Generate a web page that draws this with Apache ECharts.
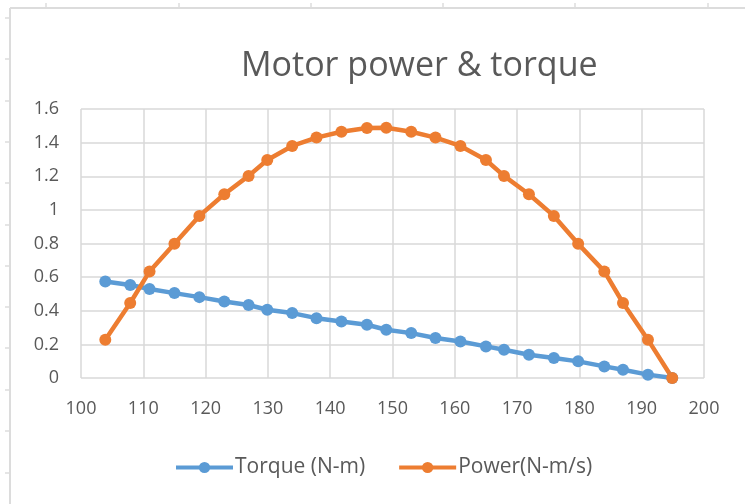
<!DOCTYPE html>
<html>
<head>
<meta charset="utf-8">
<script src="https://cdn.jsdelivr.net/npm/echarts@6/dist/echarts.min.js"></script>
<style>html,body{margin:0;padding:0;background:#fff}#c{width:745px;height:504px}</style>
</head>
<body>
<div id="c"></div>
<script>
const speeds = [103.9, 107.9, 111.0, 115.0, 119.0, 123.0, 126.9, 129.9, 133.9, 137.8, 141.8, 145.9, 149.0, 153.0, 156.9, 160.9, 165.0, 167.9, 171.9, 175.9, 179.8, 184.0, 187.0, 191.0, 194.9];
const torque = [0.574, 0.553, 0.529, 0.505, 0.481, 0.455, 0.434, 0.406, 0.386, 0.356, 0.336, 0.317, 0.287, 0.267, 0.238, 0.217, 0.188, 0.168, 0.138, 0.119, 0.099, 0.069, 0.049, 0.020, 0.0];
const power = [0.228, 0.446, 0.634, 0.798, 0.964, 1.093, 1.202, 1.297, 1.380, 1.430, 1.465, 1.487, 1.489, 1.465, 1.430, 1.380, 1.297, 1.202, 1.093, 0.964, 0.798, 0.634, 0.446, 0.228, 0.0];
const seriesNames = ['Torque (N-m)', 'Power(N-m/s)'];
const titleText = 'Motor power & torque';
const xTicks = [100, 200, 10];
const yTicks = [0, 1.6, 0.2];

const FONT = 'Open Sans';
const TXT = '#595959';
const GRID = '#d9d9d9';

const chart = echarts.init(document.getElementById('c'), null, {renderer: 'canvas'});

const sheet = [];
sheet.push({type: 'line', shape: {x1: 10, y1: 8, x2: 745, y2: 8}, style: {stroke: '#dcdcdc', lineWidth: 2}});
sheet.push({type: 'line', shape: {x1: 10, y1: 8, x2: 10, y2: 504}, style: {stroke: '#dcdcdc', lineWidth: 2}});
[46, 179, 311, 443, 575, 708].forEach(x => sheet.push({type: 'line', shape: {x1: x, y1: 3, x2: x, y2: 8}, style: {stroke: '#dcdcdc', lineWidth: 1.5}}));
[18, 59, 101, 142, 183, 225, 266, 307, 348, 390, 431, 473].forEach(y => sheet.push({type: 'line', shape: {x1: 5, y1: y, x2: 10, y2: y}, style: {stroke: '#dcdcdc', lineWidth: 1.5}}));

chart.setOption({
  animation: false,
  backgroundColor: '#fff',
  graphic: sheet,
  title: {
    text: titleText,
    left: 236,
    top: 44,
    textStyle: {fontFamily: FONT, fontSize: 34, fontWeight: 'normal', color: TXT}
  },
  legend: {
    data: seriesNames,
    left: 169,
    top: 452,
    itemWidth: 57,
    itemHeight: 14,
    itemGap: 32,
    lineStyle: {width: 4},
    textStyle: {fontFamily: FONT, fontSize: 21, color: TXT, padding: [0, 0, 0, -3]}
  },
  grid: {left: 81, right: 41, top: 109, bottom: 126, containLabel: false},
  xAxis: {
    type: 'value',
    min: xTicks[0], max: xTicks[1], interval: xTicks[2],
    axisLine: {show: false},
    axisTick: {show: false},
    axisLabel: {fontFamily: FONT, fontSize: 18, color: TXT, margin: 22},
    splitLine: {show: true, lineStyle: {color: GRID, width: 1.5}}
  },
  yAxis: {
    type: 'value',
    min: yTicks[0], max: yTicks[1], interval: yTicks[2],
    axisLine: {show: false},
    axisTick: {show: false},
    axisLabel: {fontFamily: FONT, fontSize: 18, color: TXT, margin: 22,
      formatter: v => String(Math.round(v * 10) / 10)},
    splitLine: {show: true, lineStyle: {color: GRID, width: 1.5}}
  },
  series: [
    {
      name: seriesNames[0], type: 'line',
      data: speeds.map((s, i) => [s, torque[i]]),
      symbol: 'circle', symbolSize: 12,
      lineStyle: {width: 4.5, color: '#5B9BD5'},
      itemStyle: {color: '#5B9BD5'}
    },
    {
      name: seriesNames[1], type: 'line',
      data: speeds.map((s, i) => [s, power[i]]),
      symbol: 'circle', symbolSize: 12,
      lineStyle: {width: 4.5, color: '#ED7D31'},
      itemStyle: {color: '#ED7D31'}
    }
  ]
});
</script>
</body>
</html>
